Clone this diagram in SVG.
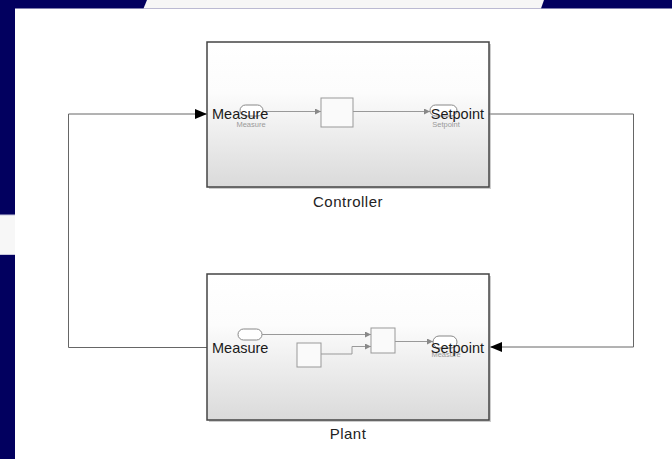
<svg xmlns="http://www.w3.org/2000/svg" width="672" height="459" viewBox="0 0 672 459">
<defs>
<linearGradient id="blk" x1="0" y1="0" x2="0" y2="1">
<stop offset="0" stop-color="#ffffff"/>
<stop offset="0.35" stop-color="#fcfcfc"/>
<stop offset="1" stop-color="#dadada"/>
</linearGradient>
<marker id="bigArrow" viewBox="0 0 12 10" refX="12" refY="5" markerWidth="12" markerHeight="10" markerUnits="userSpaceOnUse" orient="auto">
<path d="M0,0 L12,5 L0,10 Z" fill="#000"/>
</marker>
<marker id="smallArrow" viewBox="0 0 6 6" refX="6" refY="3" markerWidth="6" markerHeight="6" markerUnits="userSpaceOnUse" orient="auto">
<path d="M0,0 L6,3 L0,6 Z" fill="#888"/>
</marker>
</defs>
<style>
.frame{fill:url(#blk);stroke:#444;stroke-width:1.5}
.shadow{fill:#9a9a9a;opacity:0.5}
.port{font-family:"Liberation Sans",Arial,sans-serif;font-size:14.5px;fill:#1a1a1a}
.title{font-family:"Liberation Sans",Arial,sans-serif;font-size:15px;letter-spacing:0.5px;fill:#222;text-anchor:middle}
.tiny{font-family:"Liberation Sans",Arial,sans-serif;font-size:7.5px;fill:#9a9a9a;text-anchor:middle}
.inner{fill:#fafafa;stroke:#999;stroke-width:1}
.oval{fill:#fff;stroke:#888;stroke-width:1}
.iline{fill:none;stroke:#999;stroke-width:1;marker-end:url(#smallArrow)}
.wire{fill:none;stroke:#666;stroke-width:1}
</style>
<rect x="0" y="0" width="672" height="459" fill="#ffffff"/>
<rect x="0" y="0" width="672" height="8.5" fill="#02005f"/>
<polygon points="147,0 544,0 541,8.5 143.5,8.5" fill="#f6f6f6"/>
<rect x="0" y="0" width="15" height="459" fill="#02005f"/>
<rect x="0" y="215" width="15" height="40" fill="#f7f7f7"/>
<line x1="0" y1="215" x2="15" y2="215" stroke="#c8c8dc" stroke-width="1"/>
<line x1="0" y1="254.5" x2="15" y2="254.5" stroke="#c8c8dc" stroke-width="1"/>

<g id="connectors">
<path class="wire" d="M207,347.5 H68.5 V114 H207" marker-end="url(#bigArrow)"/>
<path class="wire" d="M489,114 H633.5 V347 H490" marker-end="url(#bigArrow)"/>
</g>

<g id="controller">
<rect class="shadow" x="209" y="44" width="282" height="145"/>
<rect class="frame" x="207" y="42" width="282" height="145"/>
<rect class="oval" x="240" y="105" width="23" height="11" rx="5.5"/>
<path class="iline" d="M263,111.5 H321"/>
<rect class="inner" x="321" y="98" width="32" height="29"/>
<path class="iline" d="M353,111.5 H430"/>
<rect class="oval" x="430" y="105" width="27" height="11" rx="5.5"/>
<text class="tiny" x="251" y="127">Measure</text>
<text class="tiny" x="446" y="127">Setpoint</text>
<text class="port" x="212" y="119">Measure</text>
<text class="port" x="484" y="119" text-anchor="end">Setpoint</text>
<text class="title" x="348" y="206.5">Controller</text>
</g>

<g id="plant">
<rect class="shadow" x="209" y="276" width="282" height="146"/>
<rect class="frame" x="207" y="274" width="282" height="146"/>
<rect class="oval" x="238" y="329" width="24" height="11" rx="5.5"/>
<path class="iline" d="M262,334.5 H371"/>
<rect class="inner" x="297" y="343" width="24" height="24"/>
<path class="iline" d="M321,354 H352 V346.5 H371"/>
<rect class="inner" x="371" y="328" width="24" height="25"/>
<path class="iline" d="M395,341.5 H433"/>
<rect class="oval" x="433" y="336" width="24" height="12" rx="6"/>
<text class="tiny" x="446" y="357">Measure</text>
<text class="port" x="212" y="352.5">Measure</text>
<text class="port" x="484" y="352.5" text-anchor="end">Setpoint</text>
<text class="title" x="348" y="438.5">Plant</text>
</g>
</svg>
